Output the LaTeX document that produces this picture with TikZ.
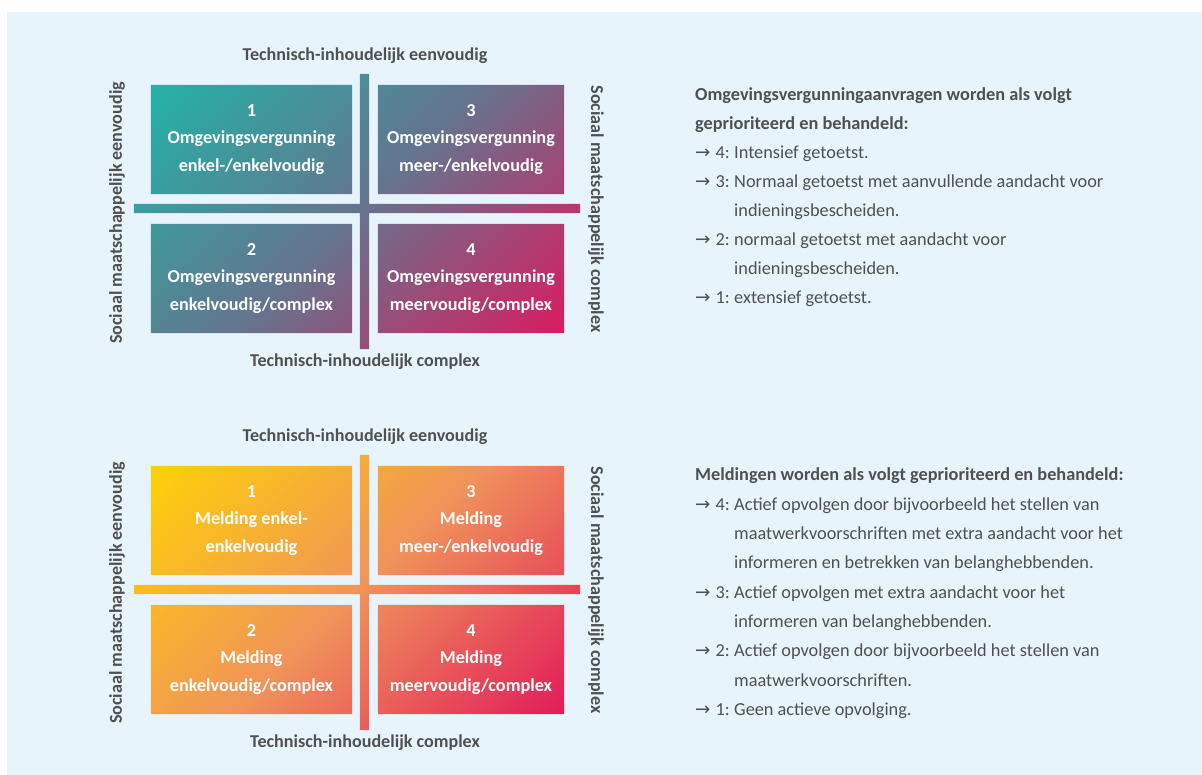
\documentclass[tikz,border=0pt]{standalone}
\usepackage{fontspec}
\setmainfont{Carlito}
\newfontfamily\arrowfont{DejaVu Sans}
\usetikzlibrary{backgrounds}
\definecolor{bgblue}{HTML}{E8F4FC}
\definecolor{txtgray}{HTML}{505050}
\definecolor{cTeal}{HTML}{1EB7A9}
\definecolor{cSlate}{HTML}{65748E}
\definecolor{cMag}{HTML}{E5135B}
\definecolor{cYel}{HTML}{FFD600}
\definecolor{cOra}{HTML}{F0935A}
\definecolor{cCrim}{HTML}{E0115A}
\pgfdeclarehorizontalshading{tealmag}{100bp}{color(0bp)=(cTeal); color(25bp)=(cTeal); color(50bp)=(cSlate); color(75bp)=(cMag); color(100bp)=(cMag)}
\pgfdeclarehorizontalshading{yelcrim}{100bp}{color(0bp)=(cYel); color(25bp)=(cYel); color(50bp)=(cOra); color(75bp)=(cCrim); color(100bp)=(cCrim)}
\newcommand\arr{{\arrowfont →}}
\newcommand\itm[1]{\makebox[39pt][l]{\arr\hspace{5pt}#1:}}
\newcommand\ind{\hspace*{39pt}}
\begin{document}
\begin{tikzpicture}[x=1pt,y=1pt,
  qbox/.style={rectangle, inner sep=0pt, text=white, align=center,
     font=\fontsize{18.2}{27.5}\selectfont\bfseries},
  bar/.style={rectangle, inner sep=0pt},
  axlab/.style={text=txtgray, font=\fontsize{18.1}{20}\selectfont\bfseries, inner sep=0pt},
  rtxt/.style={anchor=base west, text=txtgray, font=\fontsize{18.3}{20}\selectfont, inner sep=0pt},
  rhead/.style={rtxt, font=\fontsize{18.3}{20}\selectfont\bfseries},
]
\useasboundingbox (0,0) rectangle (1202,775);

% ---------- top panel ----------
\node[bar, minimum width=446pt, minimum height=9pt] (th) at (357,566.5) {};
\node[bar, minimum width=9pt, minimum height=275pt] (tv) at (364.5,563.5) {};
\node[qbox, minimum width=201pt, minimum height=109pt] (t1) at (251.5,635.5) {1\\Omgevingsvergunning\\enkel-/enkelvoudig};
\node[qbox, minimum width=186pt, minimum height=109pt] (t3) at (471,635.5) {3\\Omgevingsvergunning\\meer-/enkelvoudig};
\node[qbox, minimum width=201pt, minimum height=109pt] (t2) at (251.5,496.5) {2\\Omgevingsvergunning\\enkelvoudig/complex};
\node[qbox, minimum width=186pt, minimum height=109pt] (t4) at (471,496.5) {4\\Omgevingsvergunning\\meervoudig/complex};
\node[axlab] (ttop) at (365,719) {Technisch-inhoudelijk eenvoudig};
\node[axlab] (tbot) at (365,413) {Technisch-inhoudelijk complex};
\node[axlab, rotate=90] (tleft) at (117,562) {Sociaal maatschappelijk eenvoudig};
\node[axlab, rotate=-90] (tright) at (596,566) {Sociaal maatschappelijk complex};

% ---------- bottom panel ----------
\node[bar, minimum width=446pt, minimum height=9pt] (bh) at (357,185.5) {};
\node[bar, minimum width=9pt, minimum height=275pt] (bv) at (364.5,182.5) {};
\node[qbox, minimum width=201pt, minimum height=109pt] (b1) at (251.5,254.5) {1\\Melding enkel-\\enkelvoudig};
\node[qbox, minimum width=186pt, minimum height=109pt] (b3) at (471,254.5) {3\\Melding\\meer-/enkelvoudig};
\node[qbox, minimum width=201pt, minimum height=109pt] (b2) at (251.5,115.5) {2\\Melding\\enkelvoudig/complex};
\node[qbox, minimum width=186pt, minimum height=109pt] (b4) at (471,115.5) {4\\Melding\\meervoudig/complex};
\node[axlab] (btop) at (365,338) {Technisch-inhoudelijk eenvoudig};
\node[axlab] (bbot) at (365,32) {Technisch-inhoudelijk complex};
\node[axlab, rotate=90] (bleft) at (117,182) {Sociaal maatschappelijk eenvoudig};
\node[axlab, rotate=-90] (bright) at (596,185) {Sociaal maatschappelijk complex};

% ---------- background, gradients ----------
\begin{scope}[on background layer]
  \fill[bgblue] (7,0) rectangle (1202,763);
  \begin{scope}
    \clip (t1.south west) rectangle (t1.north east)
          (t2.south west) rectangle (t2.north east)
          (t3.south west) rectangle (t3.north east)
          (t4.south west) rectangle (t4.north east)
          (th.south west) rectangle (th.north east)
          (tv.south west) rectangle (tv.north east);
    \shade[shading=tealmag, shading angle=-45] (102,308.5) rectangle (612,818.5);
  \end{scope}
  \begin{scope}
    \clip (b1.south west) rectangle (b1.north east)
          (b2.south west) rectangle (b2.north east)
          (b3.south west) rectangle (b3.north east)
          (b4.south west) rectangle (b4.north east)
          (bh.south west) rectangle (bh.north east)
          (bv.south west) rectangle (bv.north east);
    \shade[shading=yelcrim, shading angle=-45] (102,-72.5) rectangle (612,437.5);
  \end{scope}
\end{scope}

% ---------- right texts, top ----------
\node[rhead] (ra1) at (695,674) {Omgevingsvergunningaanvragen worden als volgt};
\node[rhead] (ra2) at (695,645) {geprioriteerd en behandeld:};
\node[rtxt] (ra3) at (695,616) {\itm{4}Intensief getoetst.};
\node[rtxt] (ra4) at (695,587) {\itm{3}Normaal getoetst met aanvullende aandacht voor};
\node[rtxt] (ra5) at (695,558) {\ind indieningsbescheiden.};
\node[rtxt] (ra6) at (695,529) {\itm{2}normaal getoetst met aandacht voor};
\node[rtxt] (ra7) at (695,500) {\ind indieningsbescheiden.};
\node[rtxt] (ra8) at (695,471) {\itm{1}extensief getoetst.};

% ---------- right texts, bottom ----------
\node[rhead] (rb1) at (695,294) {Meldingen worden als volgt geprioriteerd en behandeld:};
\node[rtxt] (rb2) at (695,264.7) {\itm{4}Actief opvolgen door bijvoorbeeld het stellen van};
\node[rtxt] (rb3) at (695,235.4) {\ind maatwerkvoorschriften met extra aandacht voor het};
\node[rtxt] (rb4) at (695,206.1) {\ind informeren en betrekken van belanghebbenden.};
\node[rtxt] (rb5) at (695,176.8) {\itm{3}Actief opvolgen met extra aandacht voor het};
\node[rtxt] (rb6) at (695,147.5) {\ind informeren van belanghebbenden.};
\node[rtxt] (rb7) at (695,118.2) {\itm{2}Actief opvolgen door bijvoorbeeld het stellen van};
\node[rtxt] (rb8) at (695,88.9) {\ind maatwerkvoorschriften.};
\node[rtxt] (rb9) at (695,59.6) {\itm{1}Geen actieve opvolging.};
\end{tikzpicture}
\end{document}
